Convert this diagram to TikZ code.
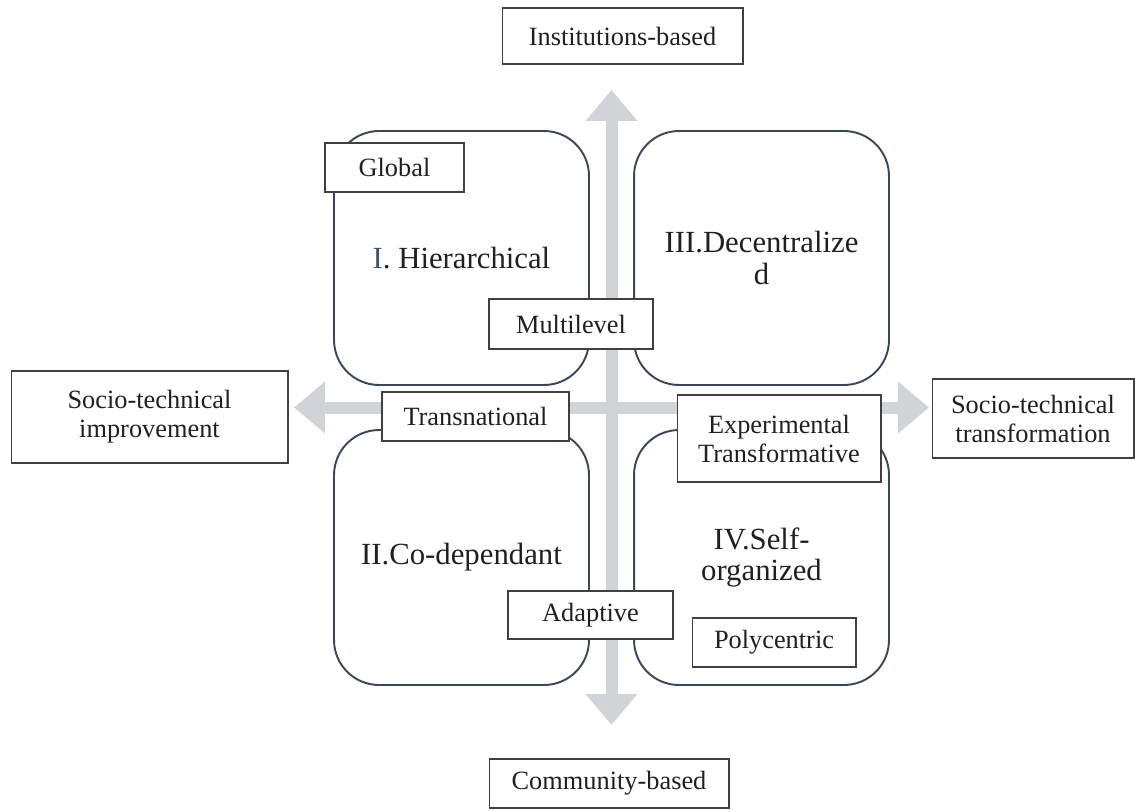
\documentclass[tikz,border=0pt]{standalone}
\usepackage{fontspec}
\setmainfont{Liberation Serif}
\usetikzlibrary{arrows.meta}
\definecolor{slate}{HTML}{44546A}
\definecolor{edge}{HTML}{3A475A}
\definecolor{pale}{HTML}{D0D3D8}
\definecolor{ink}{HTML}{231F20}
\tikzstyle{quad}=[draw=edge, line width=1.1pt, rounded corners=0.9cm,
  minimum width=5.1cm, inner sep=0pt, align=center, text=ink,
  font=\fontsize{17.5}{18}\selectfont]
\tikzstyle{tag}=[draw=black!75, fill=white, line width=0.6pt, inner sep=0pt,
  align=center, text=ink, font=\fontsize{15}{16.5}\selectfont]
\tikzstyle{spine}=[pale, line width=0.24cm,
  {Triangle[length=0.62cm,width=1cm]}-{Triangle[length=0.62cm,width=1cm]}]

\begin{document}
\begin{tikzpicture}[x=0.02cm, y=-0.02cm]
  \useasboundingbox (0,0) rectangle (1135,811);

  % the two axes
  \coordinate (n) at (611.5,90);
  \coordinate (s) at (611.5,725);
  \coordinate (w) at (294,407.5);
  \coordinate (e) at (929,407.5);
  \draw[spine] (n) -- (s);
  \draw[spine] (w) -- (e);

  % quadrants
  \node[quad, minimum height=5.08cm] (q1) at (461.5,258) {{\color{slate}I}. Hierarchical};
  \node[quad, minimum height=5.08cm] (q3) at (761.5,258) {III.Decentralize\\d};
  \node[quad, minimum height=5.1cm] (q2) at (461.5,557.5) {II.Co-dependant};
  \node[quad, minimum height=5.1cm] (q4) at (761.5,557.5) {IV.Self-\\organized};

  % ends of the axes
  \node[tag, minimum width=4.82cm, minimum height=1.12cm] (inst) at (622.5,36) {Institutions-based};
  \node[tag, minimum width=4.8cm, minimum height=0.98cm] (comm) at (609,783.5) {Community-based};
  \node[tag, minimum width=5.54cm, minimum height=1.84cm] (impr) at (149.5,417) {Socio-technical\\improvement};
  \node[tag, minimum width=4.04cm, minimum height=1.58cm] (transf) at (1033,418.5) {Socio-technical\\transformation};

  % modes of governance
  \node[tag, minimum width=2.78cm, minimum height=0.98cm] (global) at (394.5,167.5) {Global};
  \node[tag, minimum width=3.28cm, minimum height=1cm] (multi) at (571,324) {Multilevel};
  \node[tag, minimum width=3.74cm, minimum height=0.98cm] (trans) at (475.5,416.5) {Transnational};
  \node[tag, minimum width=4.08cm, minimum height=1.74cm] (exper) at (779,438.5) {Experimental\\Transformative};
  \node[tag, minimum width=3.3cm, minimum height=0.96cm] (adapt) at (590.5,615) {Adaptive};
  \node[tag, minimum width=3.28cm, minimum height=0.98cm] (poly) at (774,642.5) {Polycentric};
\end{tikzpicture}
\end{document}
